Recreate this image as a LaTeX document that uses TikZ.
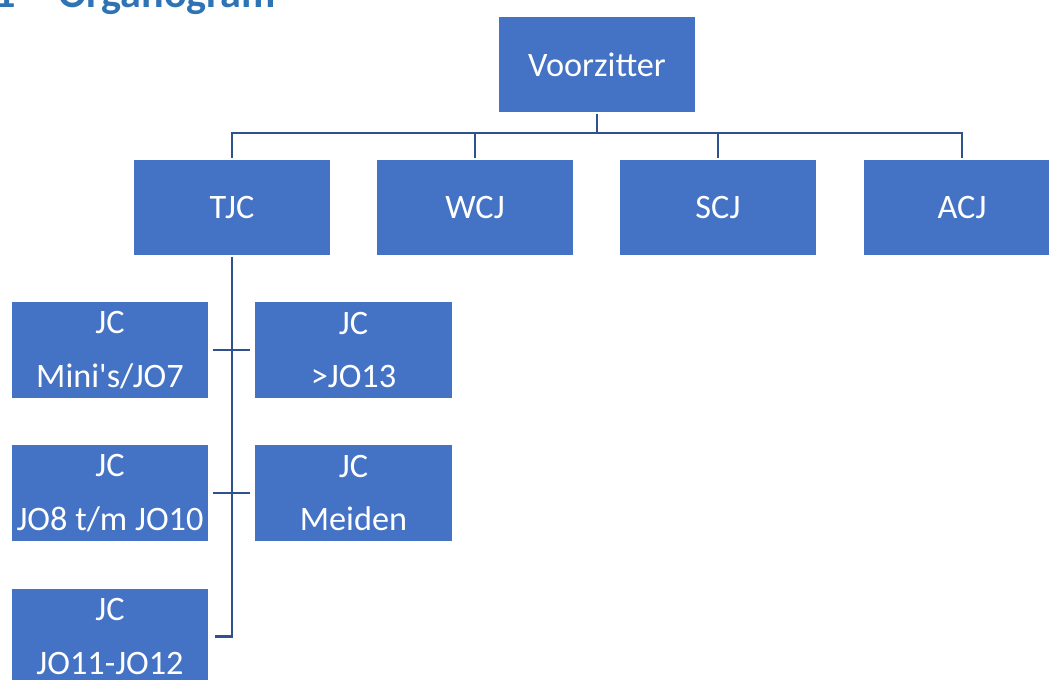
\documentclass[tikz,border=0pt]{standalone}
\usepackage{fontspec}
\setmainfont{Carlito}
\usepackage{tikz}

\definecolor{boxblue}{HTML}{4472C4}
\definecolor{linkblue}{HTML}{2F528F}
\definecolor{titleblue}{HTML}{2E74B5}

\tikzset{
  role/.style={fill=boxblue, draw=white, line width=0.6pt, text=white,
    minimum width=3.96cm, minimum height=1.94cm, inner sep=0pt, align=center,
    font=\fontsize{19.5}{30.6}\selectfont},
  link/.style={draw=linkblue, line width=1.5pt}
}

\begin{document}
\begin{tikzpicture}[x=0.02cm, y=-0.02cm]
		% Page frame
		\useasboundingbox (0, 0) rectangle (1049, 680);

		% Heading (cut off at the top)
		\node[anchor=base west, text=titleblue, inner sep=0pt,
		  font=\fontsize{24}{28}\selectfont\bfseries] (hnum) at (-6, 7) {1};
		\node[anchor=base west, text=titleblue, inner sep=0pt,
		  font=\fontsize{24}{28}\selectfont\bfseries] (htitle) at (58, 7) {Organogram};

		% Top row
		\node[role] (vz) at (597, 64.5) {Voorzitter};
		\node[role] (tjc) at (232, 207.5) {TJC};
		\node[role] (wcj) at (475, 207.5) {WCJ};
		\node[role] (scj) at (718, 207.5) {SCJ};
		\node[role] (acj) at (962, 207.5) {ACJ};

		% Youth committees
		\node[role] (mini) at (110, 350) {JC\\Mini\textquotesingle s/JO7};
		\node[role] (jo13) at (353.5, 350) {JC\\>JO13};
		\node[role] (jo8) at (110, 493) {JC\\JO8 t/m JO10};
		\node[role] (meid) at (353.5, 493) {JC\\Meiden};
		\node[role] (jo11) at (110, 636.5) {JC\\JO11-JO12};

		% Lines
		\coordinate (bus) at (597, 133);
		\draw[link] (vz.south) -- (bus);
		\draw[link] (bus) -| (tjc.north);
		\draw[link] (bus) -| (wcj.north);
		\draw[link] (bus) -| (scj.north);
		\draw[link] (bus) -| (acj.north);

		\draw[link, shorten <=3pt] (jo11.east) -| (tjc.south);
		\draw[link, shorten <=2pt, shorten >=2pt] (mini.east) -- (jo13.west);
		\draw[link, shorten <=2pt, shorten >=2pt] (jo8.east) -- (meid.west);

	\end{tikzpicture}
\end{document}
